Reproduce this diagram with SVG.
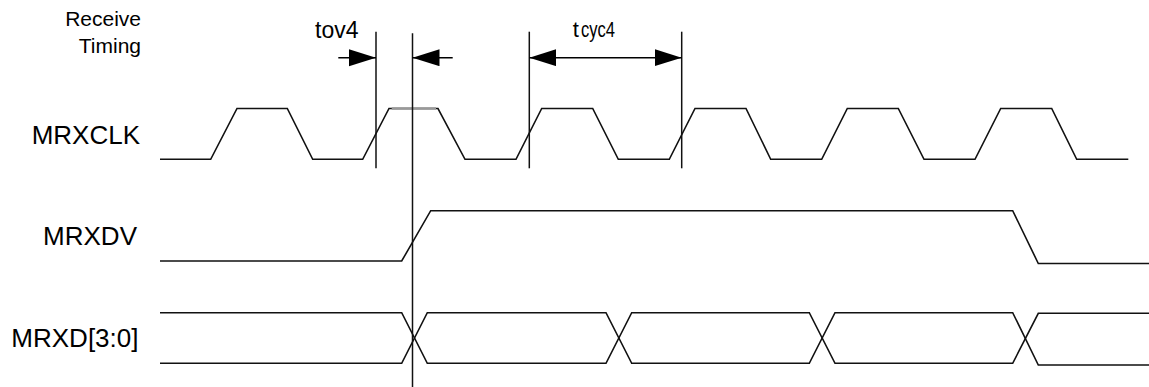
<svg xmlns="http://www.w3.org/2000/svg" width="1149" height="387" viewBox="0 0 1149 387">
  <style>
    .lbl { font-family: "Liberation Sans", Arial, sans-serif; fill: #000; }
    .sig { fill: none; stroke: #111; stroke-width: 1.6; stroke-linejoin: miter; }
    .ref { fill: none; stroke: #111; stroke-width: 1.5; }
    .dim { fill: none; stroke: #000; stroke-width: 1.6; }
  </style>
  <defs>
    <marker id="arrow" markerUnits="userSpaceOnUse" markerWidth="28" markerHeight="18" refX="27" refY="8.5" orient="auto-start-reverse">
      <path d="M0,0 L27,8.5 L0,17 Z" fill="#000"/>
    </marker>
  </defs>

  <g id="title">
    <text class="lbl" x="141" y="26" font-size="21" text-anchor="end">Receive</text>
    <text class="lbl" x="141" y="52.7" font-size="21" text-anchor="end">Timing</text>
  </g>

  <g id="mrxclk">
    <text class="lbl" x="140" y="144" font-size="26" text-anchor="end">MRXCLK</text>
    <path class="sig" d="M160,159.3 L210.7,159.3 L237,108.5 L287.3,108.5 L312.7,159.3 L362.7,159.3 L389,108.5 L438,108.5 L465,159.3 L516,159.3 L541.7,108.5 L592.7,108.5 L618.3,159.3 L669.3,159.3 L695,108.5 L746,108.5 L770.7,159.3 L821.7,159.3 L847.3,108.5 L898.3,108.5 L924,159.3 L975,159.3 L1000.7,108.5 L1051.7,108.5 L1076.7,159.3 L1128.3,159.3"/>
    <line x1="391.7" y1="108.5" x2="436" y2="108.5" stroke="#999" stroke-width="2.6"/>
  </g>

  <g id="mrxdv">
    <text class="lbl" x="137" y="245" font-size="26" text-anchor="end">MRXDV</text>
    <path class="sig" d="M160,261 L401.7,261 L430.7,210.7 L1012.7,210.7 L1038.3,263.5 L1149,263.5" stroke="#222" stroke-width="1.9"/>
  </g>

  <g id="mrxd">
    <text class="lbl" x="138.5" y="346.7" font-size="26" text-anchor="end">MRXD[3:0]</text>
    <path class="sig" d="M160,312.7 L401.7,312.7 L427.3,363.3 L606,363.3 L631.7,312.7 L809.3,312.7 L835,363.3 L1012.7,363.3 L1038.3,313.3 L1149,313.3"/>
    <path class="sig" d="M160,363.3 L401.7,363.3 L427.3,312.7 L606,312.7 L631.7,363.3 L809.3,363.3 L835,312.7 L1012.7,312.7 L1038.3,365 L1149,365"/>
  </g>

  <g id="connectors">
    <line class="ref" x1="376" y1="31.7" x2="376" y2="168.3"/>
    <line class="ref" x1="412.5" y1="33.3" x2="412.5" y2="387"/>
    <line class="ref" x1="529.3" y1="31.7" x2="529.3" y2="168.3"/>
    <line class="ref" x1="681.7" y1="31.7" x2="681.7" y2="168.3"/>
    <line class="dim" x1="338.3" y1="57.7" x2="376" y2="57.7" marker-end="url(#arrow)"/>
    <line class="dim" x1="452.7" y1="57.7" x2="412.5" y2="57.7" marker-end="url(#arrow)"/>
    <line class="dim" x1="529.3" y1="57.7" x2="681.7" y2="57.7" marker-start="url(#arrow)" marker-end="url(#arrow)"/>
  </g>

  <g id="labels">
    <text class="lbl" x="315" y="38.3" font-size="23">tov4</text>
    <text class="lbl" y="37.3" font-size="22"><tspan x="572.7">t</tspan><tspan x="581" textLength="34" lengthAdjust="spacingAndGlyphs">cyc4</tspan></text>
  </g>
</svg>
